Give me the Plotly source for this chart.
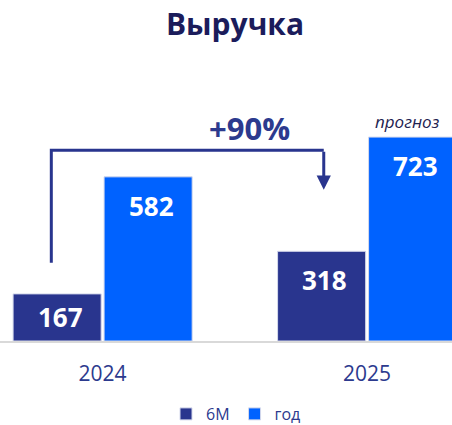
import plotly.graph_objects as go

# ---- data ----
years = ["2024", "2025"]
h1_values = [167, 318]       # 6M
fy_values = [582, 723]       # год
series_names = ["6M", "год"]
growth_text = "+90%"
forecast_text = "прогноз"
title_text = "Выручка"

# ---- style ----
NAVY = "#29358E"
BLUE = "#0062FF"
TEXT_NAVY = "#2C3A8E"
FONT = "Open Sans"
W, H = 452, 425
BOTTOM = 84
PLOT_H = H - BOTTOM
YMAX = 1209
PX_PER_UNIT = PLOT_H / YMAX
BAR_W = 0.333
OFFSETS = [-0.338, 0.006]
XRANGE = [-0.3875, 1.3214]

idx = list(range(len(years)))
fig = go.Figure()
for name, vals, col, off in zip(series_names, [h1_values, fy_values], [NAVY, BLUE], OFFSETS):
    fig.add_trace(go.Bar(
        x=idx, y=vals, name=name, width=BAR_W, offset=off,
        marker=dict(color=col, line=dict(color="#D5D9EC", width=1)),
        hoverinfo="skip",
    ))

annotations = []
# value labels inside bars
label_pad = 29 / PX_PER_UNIT
for vals, off in zip([h1_values, fy_values], OFFSETS):
    for i, v in zip(idx, vals):
        annotations.append(dict(
            x=i + off + BAR_W / 2, y=max(v - label_pad, v / 2), xref="x", yref="y",
            text=f"<b>{v}</b>", showarrow=False, xshift=3,
            font=dict(family=FONT, size=26, color="white"),
            xanchor="center", yanchor="middle",
        ))

# bracket from 2024 6M to 2025 6M
x_left = idx[0] + OFFSETS[0] + BAR_W / 2 - 0.022
x_right = idx[1] + OFFSETS[0] + BAR_W / 2 + 0.008
y_bottom = h1_values[0] + 110
y_top = fy_values[0] + 94
y_tip = h1_values[1] + 218
shapes = [dict(
    type="path", xref="x", yref="y",
    path=f"M {x_left},{y_bottom} L {x_left},{y_top} L {x_right},{y_top}",
    line=dict(color=NAVY, width=3),
)]
annotations.append(dict(
    x=x_right, y=y_tip, ax=x_right, ay=y_top, xref="x", yref="y",
    axref="x", ayref="y", text="", showarrow=True, arrowhead=2,
    arrowsize=0.95, arrowwidth=3, arrowcolor=NAVY, standoff=0,
))
annotations.append(dict(
    x=249 / W, y=1 - 128 / PLOT_H, xref="paper", yref="paper",
    text=f"<b>{growth_text}</b>", showarrow=False,
    font=dict(family=FONT, size=31, color=TEXT_NAVY),
    xanchor="center", yanchor="middle",
))
annotations.append(dict(
    x=407 / W, y=1 - 121 / PLOT_H, xref="paper", yref="paper",
    text=f"<i>{forecast_text}</i>", showarrow=False,
    font=dict(family=FONT, size=17, color="#1E2250"),
    xanchor="center", yanchor="middle",
))

fig.update_layout(
    width=W, height=H,
    margin=dict(l=0, r=0, t=0, b=BOTTOM, autoexpand=False),
    paper_bgcolor="white", plot_bgcolor="white",
    title=dict(text=f"<b>{title_text}</b>", x=235 / W, xanchor="center",
               y=1 - 24 / H, yanchor="middle",
               font=dict(family=FONT, size=30, color="#1B1C5B")),
    barmode="group",
    showlegend=True,
    legend=dict(orientation="h", x=236 / W, xanchor="center",
                y=-(414 - PLOT_H) / PLOT_H, yanchor="middle",
                font=dict(family=FONT, size=16, color=TEXT_NAVY),
                itemclick=False, itemdoubleclick=False),
    xaxis=dict(range=XRANGE, tickvals=idx, ticktext=years,
               showline=True, linecolor="#D9D9D9", linewidth=2,
               showgrid=False, zeroline=False, ticks="", automargin=False,
               tickfont=dict(family=FONT, size=21, color=TEXT_NAVY),
               ticklabelstandoff=13, fixedrange=True),
    yaxis=dict(range=[0, YMAX], visible=False, fixedrange=True),
    shapes=shapes,
    annotations=annotations,
)

fig.write_html("out.html")
